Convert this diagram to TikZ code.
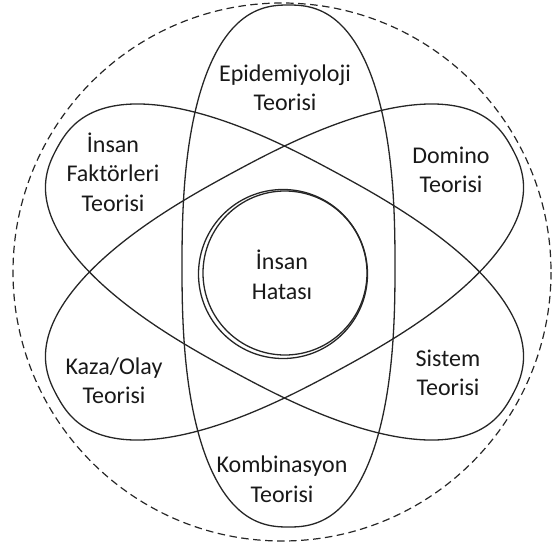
\documentclass[tikz,border=0pt]{standalone}
\usepackage{fontspec}
\setmainfont{Carlito}
\newcommand{\SupE}{-0.1837}
\begin{document}
\begin{tikzpicture}[x=1pt,y=-1pt,
  ring/.style={draw=black!85, line width=1.3pt},
  outer/.style={draw=black!85, line width=1.2pt, dash pattern=on 7.5pt off 4.5pt},
  lbl/.style={text=black!90, font=\fontsize{24}{29.5}\selectfont, align=center, inner sep=0pt}]
\useasboundingbox (0,0) rectangle (552,544);
\draw[outer] (282,272) circle [radius=269];
% three rounded ellipses (super-ellipses), same shape, rotated
\foreach \cx/\cy/\rot/\ra/\rb in {288.5/266/90/261/106.5, 284.5/272/151.5/259/112, 284.5/272/28.5/259/112}{
  \draw[ring, shift={(\cx,\cy)}, rotate=\rot]
    plot[domain=0:359, samples=360, variable=\t]
      ({\ra*cos(\t)*(abs(cos(\t))+0.0001)^(\SupE)},
       {\rb*sin(\t)*(abs(sin(\t))+0.0001)^(\SupE)}) -- cycle;
}
\draw[ring] (285,273) circle [radius=82];
\draw[ring] (283,274) circle [radius=84.5];
\node[lbl] (epi) at (285,88) {Epidemiyoloji\\Teorisi};
\node[lbl] (insf) at (113,172) {İnsan\\Faktörleri\\Teorisi};
\node[lbl] (dom) at (451,170) {Domino\\Teorisi};
\node[lbl] (hata) at (282,275) {İnsan\\Hatası};
\node[lbl] (kaza) at (114,381) {Kaza/Olay\\Teorisi};
\node[lbl] (sis) at (448,373) {Sistem\\Teorisi};
\node[lbl] (komb) at (282,479) {Kombinasyon\\Teorisi};
\end{tikzpicture}
\end{document}
